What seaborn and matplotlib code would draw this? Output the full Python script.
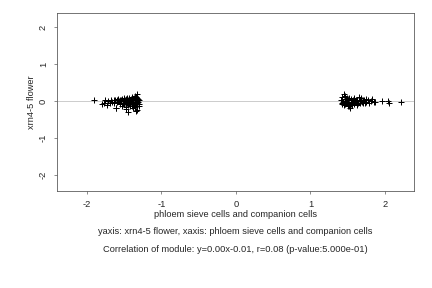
import matplotlib
matplotlib.use("Agg")
import matplotlib.pyplot as plt
import seaborn as sns
import pandas as pd

# ---- data ----
left_x = [-1.90, -1.80, -1.77, -1.75, -1.73, -1.71, -1.69, -1.67, -1.66, -1.64,
          -1.63, -1.62, -1.61, -1.60, -1.59, -1.58, -1.57, -1.56, -1.55, -1.54,
          -1.53, -1.53, -1.52, -1.51, -1.50, -1.50, -1.49, -1.48, -1.48, -1.47,
          -1.46, -1.46, -1.45, -1.45, -1.44, -1.43, -1.43, -1.42, -1.42, -1.41,
          -1.40, -1.40, -1.39, -1.39, -1.38, -1.38, -1.37, -1.37, -1.36, -1.36,
          -1.35, -1.35, -1.34, -1.34, -1.34, -1.33, -1.33, -1.33, -1.32, -1.32,
          -1.31, -1.31, -1.30, -1.30, -1.30, -1.45, -1.61, -1.34, -1.38, -1.42,
          -1.50, -1.55, -1.36, -1.47, -1.33]
left_y = [0.03, -0.08, -0.05, 0.02, -0.10, 0.01, -0.04, 0.03, -0.02, 0.04,
          -0.06, 0.02, -0.19, 0.03, -0.03, 0.05, -0.01, 0.04, -0.07, 0.02,
          0.06, -0.12, 0.01, -0.05, 0.07, -0.09, 0.03, -0.15, 0.05, -0.02,
          0.08, -0.06, 0.02, -0.11, 0.06, -0.04, 0.09, -0.08, 0.01, 0.05,
          -0.13, 0.07, -0.03, 0.10, -0.07, 0.04, -0.10, 0.08, -0.02, 0.06,
          -0.16, 0.03, -0.05, 0.12, -0.09, 0.19, -0.24, 0.02, -0.06, 0.09,
          -0.03, 0.06, -0.08, 0.04, -0.12, -0.30, -0.20, -0.26, -0.18, -0.14,
          0.00, -0.04, 0.14, -0.22, -0.01]

right_x = [1.41, 1.42, 1.43, 1.44, 1.45, 1.45, 1.46, 1.47, 1.47, 1.48,
           1.49, 1.49, 1.50, 1.51, 1.51, 1.52, 1.53, 1.54, 1.54, 1.55,
           1.56, 1.57, 1.58, 1.59, 1.60, 1.61, 1.62, 1.63, 1.64, 1.65,
           1.66, 1.67, 1.68, 1.69, 1.70, 1.71, 1.72, 1.74, 1.75, 1.77,
           1.79, 1.81, 1.83, 1.85, 1.87, 1.96, 2.04, 2.06, 2.21, 1.43,
           1.47, 1.52, 1.58, 1.63, 1.68, 1.73, 1.46, 1.50, 1.56, 1.61]
right_y = [0.02, -0.05, 0.10, -0.03, 0.19, -0.10, 0.05, -0.08, 0.14, 0.01,
           -0.06, 0.08, -0.12, 0.04, -0.03, 0.07, -0.19, 0.02, -0.09, 0.05,
           -0.04, 0.03, -0.07, 0.06, -0.02, 0.04, -0.08, 0.02, -0.05, 0.12,
           0.03, -0.06, 0.01, -0.03, 0.04, -0.05, 0.02, 0.06, -0.03, 0.02,
           -0.04, 0.01, 0.05, -0.02, -0.03, -0.01, 0.00, -0.04, -0.02, -0.08,
           0.11, -0.14, 0.09, -0.10, 0.07, -0.06, -0.02, 0.03, -0.11, 0.00]

slope = 0.00
intercept = -0.01

x_label = "phloem sieve cells and companion cells"
y_label = "xrn4-5 flower"
caption1 = "yaxis: xrn4-5 flower, xaxis: phloem sieve cells and companion cells"
caption2 = "Correlation of module: y=0.00x-0.01, r=0.08 (p-value:5.000e-01)"
ticks = [-2, -1, 0, 1, 2]

# ---- plot ----
sns.set_style("white")
plt.rcParams['font.family'] = ['Liberation Sans', 'DejaVu Sans']
fs = 9.3

df = pd.DataFrame({"x": left_x + right_x, "y": left_y + right_y})

fig = plt.figure(figsize=(6, 4), dpi=72)
ax = fig.add_axes([57/432, 1 - 191/288, (414-57)/432, (191-13)/288])

xlim = (-2.40, 2.39)
ylim = (-2.43, 2.38)
ax.plot(xlim, [slope*xlim[0] + intercept, slope*xlim[1] + intercept],
        color="#c8c8c8", lw=0.9, zorder=1)
sns.scatterplot(data=df, x="x", y="y", marker="+", color="black", s=26,
                linewidth=1.0, ax=ax, zorder=2)
ax.set_xlim(*xlim)
ax.set_ylim(*ylim)
ax.set_xticks(ticks)
ax.set_yticks(ticks)
ax.set_xticklabels([str(t) for t in ticks], fontsize=fs)
ax.set_yticklabels([str(t) for t in ticks], fontsize=fs, rotation=90, va="center")
ax.tick_params(axis="both", direction="out", length=3, width=0.6, color="#444444",
               bottom=True, left=True, pad=6)
for s in ax.spines.values():
    s.set_color("#555555")
    s.set_linewidth(0.8)
ax.set_xlabel(x_label, fontsize=fs, labelpad=1)
ax.set_ylabel(y_label, fontsize=fs, labelpad=3)

fig.text(235/432, 1 - 232/288, caption1, ha="center", va="center", fontsize=fs)
fig.text(235/432, 1 - 249/288, caption2, ha="center", va="center", fontsize=fs)

fig.savefig("out.png", dpi=72)
